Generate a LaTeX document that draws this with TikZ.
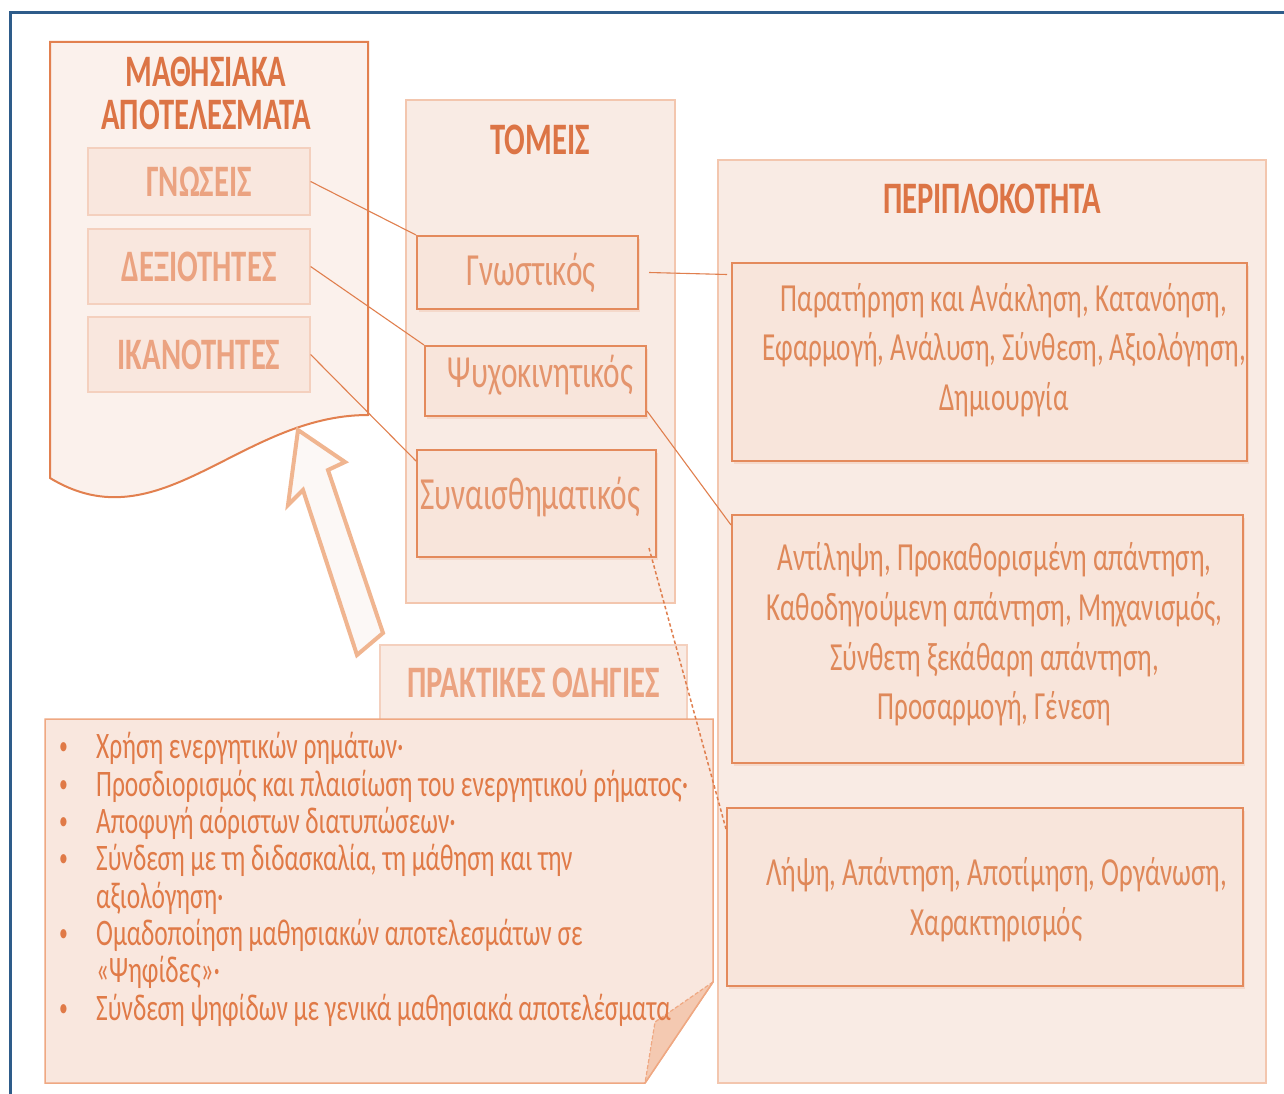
\documentclass[tikz,border=0pt]{standalone}
\usepackage{fontspec}
\setmainfont{Carlito}[FakeStretch=0.68]
\usetikzlibrary{shadows}
\definecolor{frameblue}{HTML}{2E5C8A}
\definecolor{docdraw}{HTML}{E2804F}
\definecolor{docfill}{HTML}{FBF1EC}
\definecolor{titlec}{HTML}{DC7445}
\definecolor{smfill}{HTML}{F9E7DE}
\definecolor{smdraw}{HTML}{F4D0BE}
\definecolor{smtext}{HTML}{EBA381}
\definecolor{bigfill}{HTML}{F9EBE4}
\definecolor{bigdraw}{HTML}{F3C6AE}
\definecolor{infill}{HTML}{F8E5DB}
\definecolor{indraw}{HTML}{E48A5C}
\definecolor{intext}{HTML}{E4946C}
\definecolor{rtext}{HTML}{DF8859}
\definecolor{listtext}{HTML}{E07A47}
\definecolor{listdraw}{HTML}{EFA882}
\definecolor{flapfill}{HTML}{F4C9B1}
\definecolor{arrowdraw}{HTML}{F0B590}
\definecolor{arrowfill}{HTML}{FCF8F6}
\definecolor{linkc}{HTML}{E07F4E}
\begin{document}
\begin{tikzpicture}[x=1pt,y=-1pt,
  shadowed/.style={drop shadow={shadow xshift=2pt,shadow yshift=-3pt,opacity=0.35,fill=indraw!60}},
  smbox/.style={draw=smdraw,fill=smfill,line width=1.2pt,inner sep=0pt,text=smtext,
     font=\bfseries\fontsize{45}{46}\selectfont},
  bigbox/.style={draw=bigdraw,fill=bigfill,line width=1.2pt,inner sep=0pt},
  inbox/.style={draw=indraw,fill=infill,line width=2pt,inner sep=0pt,shadowed},
  bigtitle/.style={text=titlec,inner sep=0pt,font=\bfseries\fontsize{45}{43}\selectfont,align=center},
  intxt/.style={text=intext,inner sep=0pt,font=\fontsize{46}{50}\selectfont},
  rtxt/.style={text=rtext,inner sep=0pt,align=center,font=\fontsize{39.8}{49.7}\selectfont},
  litxt/.style={text=listtext,inner sep=0pt,anchor=base west,font=\fontsize{37.4}{38}\selectfont},
  bultxt/.style={text=listtext,inner sep=0pt,anchor=base west,font=\fontsize{26}{38}\selectfont},
  link/.style={draw=linkc,line width=1.1pt},
  dotlink/.style={draw=linkc,line width=1.5pt,dash pattern=on 3.5pt off 2.5pt}
]
\useasboundingbox (0,0) rectangle (1284,1094);
\fill[white] (0,0) rectangle (1284,1094);
% frame
\draw[frameblue,line width=3pt] (10,1094) -- (10,13) -- (1284,13);

% document shape
\draw[draw=docdraw,fill=docfill,line width=2pt]
  (50,42) -- (368,42) -- (368,415) .. controls (240,415) and (160,545) .. (50,478) -- cycle;
\node[bigtitle] (mtitle) at (206,93.5) {ΜΑΘΗΣΙΑΚΑ\\ΑΠΟΤΕΛΕΣΜΑΤΑ};
\node[smbox,minimum width=222pt,minimum height=67pt] (gnoseis) at (199,181.5) {ΓΝΩΣΕΙΣ};
\node[smbox,minimum width=222pt,minimum height=75pt] (dexiot) at (199,266.5) {ΔΕΞΙΟΤΗΤΕΣ};
\node[smbox,minimum width=222pt,minimum height=75pt] (ikanot) at (199,354.5) {ΙΚΑΝΟΤΗΤΕΣ};

% TOMEIS
\node[bigbox,minimum width=269pt,minimum height=503pt] (tomeis) at (540.5,351.5) {};
\node[bigtitle] (ttitle) at (540,140) {ΤΟΜΕΙΣ};
\node[inbox,minimum width=221pt,minimum height=73pt] (gnost) at (527.5,272.5) {};
\node[intxt] (gnostt) at (531,273) {Γνωστικός};
\node[inbox,minimum width=221pt,minimum height=70pt] (psycho) at (535.5,381) {};
\node[intxt] (psychot) at (540.5,375) {Ψυχοκινητικός};
\node[inbox,minimum width=239pt,minimum height=107pt] (synais) at (536.5,503.5) {};
\node[intxt] (synaist) at (530,497) {Συναισθηματικός};

% PERIPLOKOTHTA
\node[bigbox,minimum width=548pt,minimum height=923pt] (perip) at (992,621.5) {};
\node[bigtitle] (ptitle) at (992,199) {ΠΕΡΙΠΛΟΚΟΤΗΤΑ};
\node[inbox,minimum width=515pt,minimum height=198pt] (b1) at (989.5,362) {};
\node[rtxt] (b1t) at (1004,350) {Παρατήρηση και Ανάκληση, Κατανόηση,\\Εφαρμογή, Ανάλυση, Σύνθεση, Αξιολόγηση,\\Δημιουργία};
\node[inbox,minimum width=511pt,minimum height=248pt] (b2) at (987.5,639) {};
\node[rtxt] (b2t) at (994.5,634.5) {Αντίληψη, Προκαθορισμένη απάντηση,\\Καθοδηγούμενη απάντηση, Μηχανισμός,\\Σύνθετη ξεκάθαρη απάντηση,\\Προσαρμογή, Γένεση};
\node[inbox,minimum width=516pt,minimum height=178pt] (b3) at (985,897) {};
\node[rtxt] (b3t) at (996.5,900) {Λήψη, Απάντηση, Αποτίμηση, Οργάνωση,\\Χαρακτηρισμός};

% arrow
\draw[draw=arrowdraw,fill=arrowfill,line width=4pt,line join=miter]
  (298,430) -- (345,462) -- (328,470) -- (383,633) -- (357,655) -- (303,490) -- (288,505) -- cycle;

% PRAKTIKES ODHGIES
\node[draw=smdraw,fill=bigfill,line width=1.2pt,minimum width=307pt,minimum height=75pt,inner sep=0pt,
      text=smtext,font=\bfseries\fontsize{45}{46}\selectfont] (tab) at (533.5,682.5) {ΠΡΑΚΤΙΚΕΣ ΟΔΗΓΙΕΣ};
\draw[draw=listdraw,fill=smfill,line width=1.5pt]
  (45,719) -- (713,719) -- (713,982) -- (645,1083) -- (45,1083) -- cycle;
\fill[flapfill] (713,982) -- (655,1022) -- (645,1083) -- cycle;
\draw[listdraw,line width=1.2pt,dash pattern=on 4pt off 2pt] (713,982) -- (655,1022) -- (645,1083);
\draw[listdraw,line width=1.5pt] (713,982) -- (645,1083);

\foreach \y/\b/\t [count=\i] in {
  758/•/{Χρήση ενεργητικών ρημάτων·},
  796/•/{Προσδιορισμός και πλαισίωση του ενεργητικού ρήματος·},
  833/•/{Αποφυγή αόριστων διατυπώσεων·},
  870/•/{Σύνδεση με τη διδασκαλία, τη μάθηση και την},
  908/{}/{αξιολόγηση·},
  945/•/{Ομαδοποίηση μαθησιακών αποτελεσμάτων σε},
  982/{}/{«Ψηφίδες»·},
  1020/•/{Σύνδεση ψηφίδων με γενικά μαθησιακά αποτελέσματα}}{
  \node[bultxt] (bul\i) at (59,\y-4) {\b};
  \node[litxt] (li\i) at (96,\y) {\t};
}

% connectors
\draw[link] (gnoseis.east) -- (gnost.north west);
\draw[link] (dexiot.east) -- (psycho.north west);
\draw[link] (ikanot.east) -- ([yshift=-12pt]synais.north west);
\draw[link] ([xshift=10pt]gnost.east) -- ([xshift=-4pt,yshift=-2pt]gnost.east -| b1.west);
\draw[link] ([yshift=6pt]psycho.south east) -- ([yshift=-11pt]b2.north west);
\draw[dotlink] ([xshift=-8pt,yshift=10pt]synais.south east) -- ([yshift=-22pt]b3.north west);
\end{tikzpicture}
\end{document}
